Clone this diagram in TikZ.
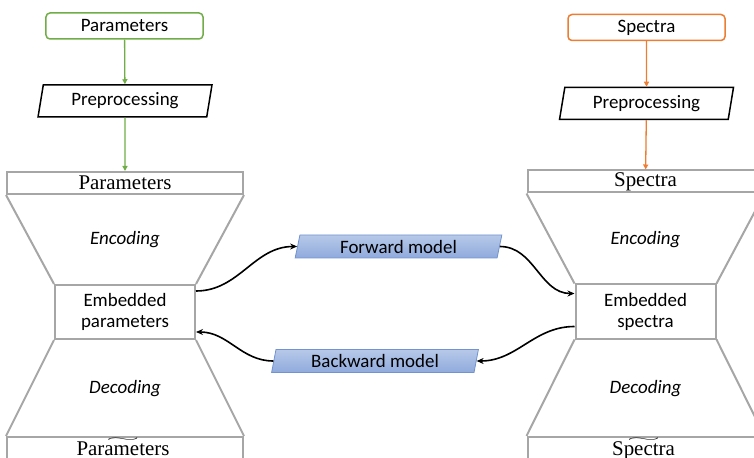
\documentclass[tikz,border=0pt]{standalone}
\usepackage{amsmath}
\usepackage{fontspec}
\setmainfont{Carlito}
\newfontfamily\layerfont{Liberation Serif}
\usetikzlibrary{shapes.geometric,positioning,arrows.meta}
\definecolor{green1}{RGB}{112,173,71}
\definecolor{orange1}{RGB}{237,125,49}
\definecolor{gray1}{RGB}{166,166,166}
\definecolor{blue1}{RGB}{183,201,233}
\definecolor{blue2}{RGB}{143,170,220}
\definecolor{blue3}{RGB}{114,147,207}
\newcommand{\wtil}[1]{\ooalign{#1\cr\hidewidth\raisebox{14bp}{\resizebox{34bp}{3.5bp}{$\sim$}}\hidewidth\cr}}

\begin{document}
\begin{tikzpicture}[x=1bp,y=-1bp,
  font=\fontsize{19}{22}\selectfont,
  inbox/.style={draw, rounded corners=4bp, line width=1.5bp, minimum width=157bp,
    minimum height=26bp, inner sep=0pt},
  prepbox/.style={draw, trapezium, trapezium left angle=78, trapezium right angle=102,
    trapezium stretches=true, line width=1.5bp, minimum width=174bp,
    minimum height=32bp, inner sep=0pt},
  modelbox/.style={draw=blue3, trapezium, trapezium left angle=78, trapezium right angle=102,
    trapezium stretches=true, line width=0.8bp, top color=blue1, bottom color=blue2,
    minimum width=207bp, minimum height=23bp, inner sep=0pt},
  layerbox/.style={draw=gray1, line width=2bp, minimum width=236bp, minimum height=22bp,
    inner sep=0pt, font=\layerfont\fontsize{21}{24}\selectfont},
  embbox/.style={draw=gray1, line width=2bp, minimum width=140bp, minimum height=54bp,
    inner sep=0pt, align=center, font=\fontsize{19}{21}\selectfont},
  side/.style={draw=gray1, line width=2bp},
  flow/.style={-{Triangle[length=5bp,width=5bp]}, line width=1.3bp},
  link/.style={-{Stealth[length=7bp,width=6bp]}, line width=1.6bp}]
\useasboundingbox (0,0) rectangle (754,458);
\clip (0,0) rectangle (754,458);

% parameters side
\node[inbox, draw=green1] (parin) at (124.5,26) {Parameters};
\node[prepbox] (parprep) at (125,101) {Preprocessing};
\node[layerbox] (partop) at (125,183) {Parameters};
\node[embbox] (paremb) at (125,312) {Embedded\\parameters};
\node[layerbox] (parbot) at (125,448) {};
\node[font=\layerfont\fontsize{21}{24}\selectfont, inner sep=0pt, anchor=base] (parbottxt) at (123,455.5) {\wtil{Parameters}};
\node[font=\itshape\fontsize{19}{22}\selectfont] (parenc) at (125,240) {Encoding};
\node[font=\itshape\fontsize{19}{22}\selectfont] (pardec) at (125,389) {Decoding};
\draw[side] (partop.south west) -- (paremb.north west);
\draw[side] (partop.south east) -- (paremb.north east);
\draw[side] (paremb.south west) -- (parbot.north west);
\draw[side] (paremb.south east) -- (parbot.north east);
\draw[flow, green1] (parin) -- (parprep);
\draw[flow, green1] (parprep) -- (partop);

% spectra side
\node[inbox, draw=orange1] (spein) at (646.5,27.5) {Spectra};
\node[prepbox] (speprep) at (646.5,103.5) {Preprocessing};
\node[layerbox] (spetop) at (645.5,181.5) {Spectra};
\node[embbox] (speemb) at (645.5,311.5) {Embedded\\spectra};
\node[layerbox] (spebot) at (645.5,448) {};
\node[font=\layerfont\fontsize{21}{24}\selectfont, inner sep=0pt, anchor=base] (spebottxt) at (643.5,455.5) {\wtil{Spectra}};
\node[font=\itshape\fontsize{19}{22}\selectfont] (speenc) at (645.5,240) {Encoding};
\node[font=\itshape\fontsize{19}{22}\selectfont] (spedec) at (645.5,389) {Decoding};
\draw[side] (spetop.south west) -- (speemb.north west);
\draw[side] (spetop.south east) -- (speemb.north east);
\draw[side] (speemb.south west) -- (spebot.north west);
\draw[side] (speemb.south east) -- (spebot.north east);
\draw[flow, orange1] (spein) -- (speprep);
\draw[flow, orange1] (speprep) -- (spetop);

% models
\node[modelbox] (fwd) at (398.5,246.5) {Forward model};
\node[modelbox] (bwd) at (375,361) {Backward model};
\draw[link] ([yshift=21bp]paremb.east) to[out=0, in=180] (fwd.west);
\draw[link] (fwd.east) to[out=0, in=180] ([yshift=18bp]speemb.west);
\draw[link] ([yshift=-15bp]speemb.west) to[out=180, in=0] (bwd.east);
\draw[link] (bwd.west) to[out=180, in=0] ([yshift=-20bp]paremb.east);
\end{tikzpicture}
\end{document}
